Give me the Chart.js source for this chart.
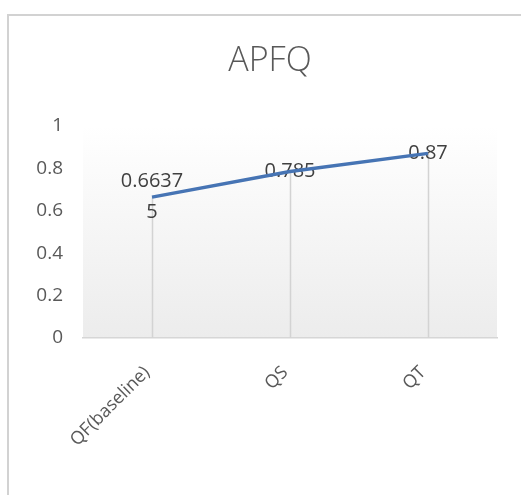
<!DOCTYPE html>
<html>
<head>
<meta charset="utf-8">
<script src="https://cdn.jsdelivr.net/npm/chart.js@4/dist/chart.umd.min.js"></script>
<style>
  html, body { margin: 0; padding: 0; background: #ffffff; }
  #wrap { position: relative; width: 521px; height: 495px; }
</style>
</head>
<body>
<div id="wrap"><canvas id="c"></canvas></div>
<script>
const titleText = "APFQ";
const categories = ["QF(baseline)", "QS", "QT"];
const apfqValues = [0.66375, 0.785, 0.87];
const yTicks = [0, 0.2, 0.4, 0.6, 0.8, 1];

const FONT = "'Open Sans', 'Liberation Sans', sans-serif";

// frame around the chart (like the Excel chart area border)
const framePlugin = {
  id: 'frame',
  beforeDraw(chart) {
    const ctx = chart.ctx;
    ctx.save();
    ctx.strokeStyle = '#d2d2d2';
    ctx.lineWidth = 2;
    ctx.beginPath();
    ctx.moveTo(8, chart.height + 5);
    ctx.lineTo(8, 15);
    ctx.lineTo(chart.width + 5, 15);
    ctx.stroke();
    // plot area gradient background
    const a = chart.chartArea;
    const g = ctx.createLinearGradient(0, a.top, 0, a.bottom);
    g.addColorStop(0, '#ffffff');
    g.addColorStop(1, '#ececec');
    ctx.fillStyle = g;
    ctx.fillRect(a.left, a.top, a.right - a.left, a.bottom - a.top);
    ctx.restore();
  }
};

// drop lines from every point down to the category axis, plus centred data labels
const dropAndLabels = {
  id: 'dropAndLabels',
  beforeDatasetsDraw(chart) {
    const ctx = chart.ctx;
    const a = chart.chartArea;
    const meta = chart.getDatasetMeta(0);
    const vals = chart.data.datasets[0].data;
    ctx.save();
    ctx.strokeStyle = '#d3d3d3';
    ctx.lineWidth = 1.5;
    meta.data.forEach(pt => {
      ctx.beginPath();
      ctx.moveTo(Math.round(pt.x) + 0.5, pt.y);
      ctx.lineTo(Math.round(pt.x) + 0.5, a.bottom);
      ctx.stroke();
    });
    ctx.fillStyle = '#404040';
    ctx.font = '20px ' + FONT;
    ctx.textAlign = 'center';
    ctx.textBaseline = 'middle';
    const lh = 31;
    meta.data.forEach((pt, i) => {
      const s = String(vals[i]);
      const lines = [];
      for (let k = 0; k < s.length; k += 6) lines.push(s.slice(k, k + 6));
      const y0 = pt.y - (lines.length - 1) * lh / 2;
      lines.forEach((ln, j) => ctx.fillText(ln, pt.x, y0 + j * lh));
    });
    ctx.restore();
  }
};

new Chart(document.getElementById('c'), {
  type: 'line',
  data: {
    labels: categories,
    datasets: [{
      label: titleText,
      data: apfqValues,
      borderColor: '#4674b4',
      borderWidth: 3.5,
      pointRadius: 0,
      pointHoverRadius: 0,
      fill: false,
      tension: 0
    }]
  },
  options: {
    responsive: true,
    maintainAspectRatio: false,
    animation: false,
    events: [],
    layout: { padding: { left: 19, right: 0, top: 0, bottom: 0 } },
    plugins: {
      legend: { display: false },
      tooltip: { enabled: false },
      title: {
        display: true,
        text: titleText,
        color: '#595959',
        font: { family: FONT, size: 34, weight: '300' },
        padding: { top: 41, bottom: 44 }
      }
    },
    scales: {
      x: {
        offset: true,
        grid: { display: false, drawTicks: false },
        border: { display: true, color: '#d6d6d6', width: 1.5 },
        ticks: {
          color: '#595959',
          font: { family: FONT, size: 18 },
          minRotation: 45,
          maxRotation: 45,
          padding: 24,
          labelOffset: -5,
          autoSkip: false
        },
        afterFit(s) { s.height = 157; }
      },
      y: {
        min: 0,
        max: 1,
        afterBuildTicks(s) { s.ticks = yTicks.map(v => ({ value: v })); },
        grid: { display: false, drawTicks: false },
        border: { display: false },
        ticks: {
          color: '#595959',
          font: { family: FONT, size: 19 },
          padding: 20,
          callback: v => String(v)
        },
        afterFit(s) { s.width = 64; }
      },
      yRight: {
        position: 'right',
        display: true,
        grid: { display: false, drawTicks: false },
        border: { display: false },
        ticks: { display: false },
        afterFit(s) { s.width = 24; }
      }
    }
  },
  plugins: [framePlugin, dropAndLabels]
});
</script>
</body>
</html>
